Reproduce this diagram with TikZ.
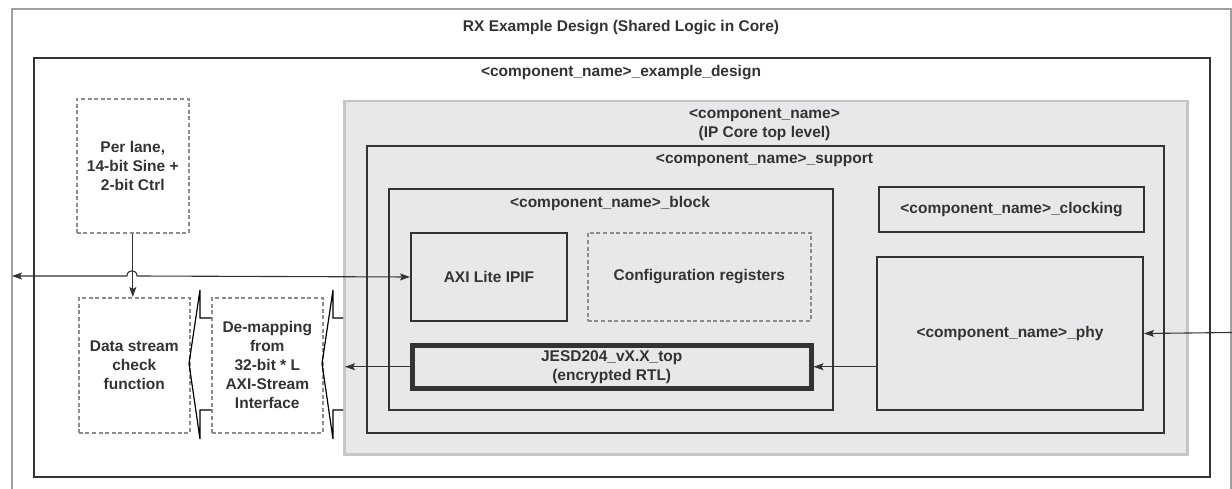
\documentclass[tikz,border=0pt]{standalone}
\usepackage{fontspec}
\setmainfont{Liberation Sans}
\usetikzlibrary{arrows.meta}
\definecolor{ink}{HTML}{333333}
\definecolor{txt}{HTML}{333333}
\definecolor{grayfill}{HTML}{E8E8EA}
\definecolor{grayedge}{HTML}{C6C6C8}
\definecolor{frame}{HTML}{A0A0A0}
\definecolor{dashc}{HTML}{8C8C8C}
\tikzset{
  box/.style={draw=ink, line width=2pt, rectangle, inner sep=0pt, anchor=north west},
  dbox/.style={draw=dashc, line width=1.6pt, dash pattern=on 4pt off 2.6pt, rectangle, inner sep=0pt, anchor=north west},
  lbl/.style={font=\fontsize{15.5}{19}\selectfont\bfseries, text=txt, align=center, inner sep=0pt},
  conn/.style={draw=ink, line width=1.1pt},
  tip/.style={-{Stealth[length=10pt,width=7pt,inset=2pt]}},
  hollow/.style={draw=black, line width=1.2pt, line join=miter}
}
\begin{document}
\begin{tikzpicture}[x=1pt,y=-1pt]
\useasboundingbox (0,0) rectangle (1232,489);
% outer frame
\draw[frame, line width=1.2pt] (12,489) -- (12,9) -- (1231,9) -- (1231,489);
\node[lbl] (title) at (621,28) {RX Example Design (Shared Logic in Core)};
% example design
\node[box, minimum width=1176pt, minimum height=419pt] (ex) at (33,57) {};
\node[lbl] (exl) at (621,73) {<component\_name>\_example\_design};
% IP core gray box
\node[box, draw=grayedge, fill=grayfill, line width=2.5pt, minimum width=843pt, minimum height=353pt] (core) at (343,100) {};
\node[lbl] (corel) at (764.5,125) {<component\_name>\\(IP Core top level)};
% support
\node[box, minimum width=797pt, minimum height=287pt] (sup) at (366,145) {};
\node[lbl] (supl) at (764.5,160) {<component\_name>\_support};
% block
\node[box, minimum width=444pt, minimum height=221pt] (blk) at (388,188) {};
\node[lbl] (blkl) at (610,203) {<component\_name>\_block};
% clocking
\node[box, minimum width=265pt, minimum height=45pt] (clk) at (878,186) {};
\node[lbl] (clkl) at (clk.center) {<component\_name>\_clocking};
% phy
\node[box, minimum width=266pt, minimum height=153pt] (phy) at (876,256) {};
\node[lbl] (phyl) at (phy.center) {<component\_name>\_phy};
% AXI Lite IPIF
\node[box, minimum width=156pt, minimum height=88pt] (axi) at (410,232) {};
\node[lbl] (axil) at (axi.center) {AXI Lite IPIF};
% configuration registers
\node[dbox, minimum width=223pt, minimum height=88pt] (cfg) at (587,232) {};
\node[lbl] (cfgl) at (cfg.center) {Configuration registers};
% JESD top
\node[box, line width=4.5pt, minimum width=399pt, minimum height=43pt] (jesd) at (410,343) {};
\node[lbl] (jesdl) at (jesd.center) {JESD204\_vX.X\_top\\(encrypted RTL)};
% left dashed boxes
\node[dbox, minimum width=112pt, minimum height=134pt] (lane) at (76,98) {};
\node[lbl] (lanel) at (lane.center) {Per lane,\\14-bit Sine +\\2-bit Ctrl};
\node[dbox, minimum width=111pt, minimum height=135pt] (chk) at (78,297) {};
\node[lbl] (chkl) at (chk.center) {Data stream\\check\\function};
\node[dbox, minimum width=111pt, minimum height=135pt] (dmap) at (211,297) {};
\node[lbl] (dmapl) at (dmap.center) {De-mapping\\from\\32-bit * L\\AXI-Stream\\Interface};
% hollow arrows
\draw[hollow] (211,318) -- (200,318) -- (200,290) -- (189,363.5) -- (200,439) -- (200,410) -- (211,410);
\draw[hollow] (343,318) -- (333,318) -- (333,290) -- (322,363.5) -- (333,439) -- (333,410) -- (343,410);
% connectors
\coordinate (lend) at (12,276);
\coordinate (rin) at (1232,332.5);
\draw[conn, {Stealth[length=10pt,width=7pt,inset=2pt]}-{Stealth[length=10pt,width=7pt,inset=2pt]}]
  (lend) -- (127,276) .. controls (127,269) and (137,269) .. (137,276) -- (axi.west);
\draw[conn, tip] (lane.south) -- (lane.south |- chk.north);
\draw[conn, tip] (jesd.west) -- ([xshift=2pt]core.west |- jesd.west);
\draw[conn, tip] (phy.west |- jesd.east) -- (jesd.east);
\draw[conn, tip] (rin) -- (phy.east);
\end{tikzpicture}
\end{document}
